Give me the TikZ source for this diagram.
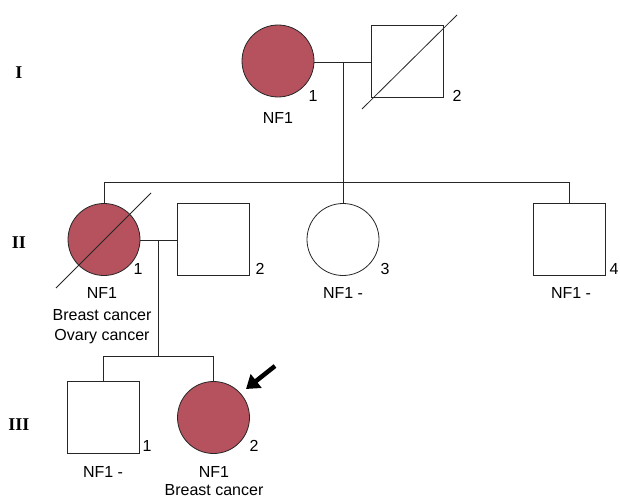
\documentclass[tikz,border=0pt]{standalone}
\usepackage{fontspec}
\setmainfont{Liberation Sans}
\newfontfamily\romfont{Liberation Serif}
\usetikzlibrary{arrows.meta,calc}
\definecolor{affected}{RGB}{181,82,94}
\begin{document}
\begin{tikzpicture}[x=1pt,y=-1pt,
  every node/.style={font=\fontsize{16}{18}\selectfont},
  person/.style={draw=black!85,line width=0.8pt,inner sep=0pt,minimum size=72pt},
  female/.style={person,circle},
  male/.style={person,rectangle},
  aff/.style={fill=affected},
  link/.style={draw=black!85,line width=0.8pt},
  gen/.style={font=\romfont\bfseries\fontsize{18}{20}\selectfont},
  txt/.style={inner sep=0pt}]
\useasboundingbox (0,0) rectangle (620,500);
% generation labels
\node[gen] (gI) at (19,73) {I};
\node[gen] (gII) at (19,243) {II};
\node[gen] (gIII) at (19,425) {III};
% generation I
\node[female,aff] (i1) at (278,61) {};
\node[male] (i2) at (407.5,61) {};
\node[txt] (i1n) at (313,96) {1};
\node[txt] (i2n) at (457,96) {2};
\node[txt] (i1t) at (278,118) {NF1};
\draw[link] ($(i2)+(-45.5,48)$) -- ($(i2)+(49.5,-46)$);
% generation II
\node[female,aff] (ii1) at (104,239.5) {};
\node[male] (ii2) at (213,239.5) {};
\node[female] (ii3) at (343,239.5) {};
\node[male] (ii4) at (569,239.5) {};
\draw[link] ($(ii1)+(-48,48.5)$) -- ($(ii1)+(47,-46.5)$);
\node[txt] (ii1n) at (138,269) {1};
\node[txt] (ii2n) at (260,269) {2};
\node[txt] (ii3n) at (385,269) {3};
\node[txt] (ii4n) at (614,269) {4};
\node[txt] (ii1a) at (102,293) {NF1};
\node[txt] (ii1b) at (102,315) {Breast cancer};
\node[txt] (ii1c) at (102,337) {Ovary cancer};
\node[txt] (ii3t) at (343,293) {NF1 -};
\node[txt] (ii4t) at (571,293) {NF1 -};
% generation III
\node[male] (iii1) at (103,417.5) {};
\node[female,aff] (iii2) at (213.5,417.5) {};
\node[txt] (iii1n) at (147,446) {1};
\node[txt] (iii2n) at (254,446) {2};
\node[txt] (iii1t) at (103,472) {NF1 -};
\node[txt] (iii2a) at (214,472) {NF1};
\node[txt] (iii2b) at (214,490.5) {Breast cancer};
% connectors
\coordinate (m1) at (343,62);
\coordinate (s1) at (343,182);
\coordinate (m2) at (158,240);
\coordinate (s2) at (158,357);
\coordinate (arrtail) at (275,366);
\coordinate (arrtip) at (246,389);
\draw[link] (i1.east |- m1) -- (i2.west |- m1);
\draw[link] (m1) -- (s1);
\draw[link] (ii1.north) -- ++(0,-21) -| (ii4.north);
\draw[link] (s1) -- (ii3.north);
\draw[link] (ii1.east |- m2) -- (ii2.west |- m2);
\draw[link] (m2) -- (s2);
\draw[link] (iii1.north) -- ++(0,-25) -| (iii2.north);
\draw[line width=4.5pt,-{Triangle[length=13pt,width=17pt]}] (arrtail) -- (arrtip);
\end{tikzpicture}
\end{document}
